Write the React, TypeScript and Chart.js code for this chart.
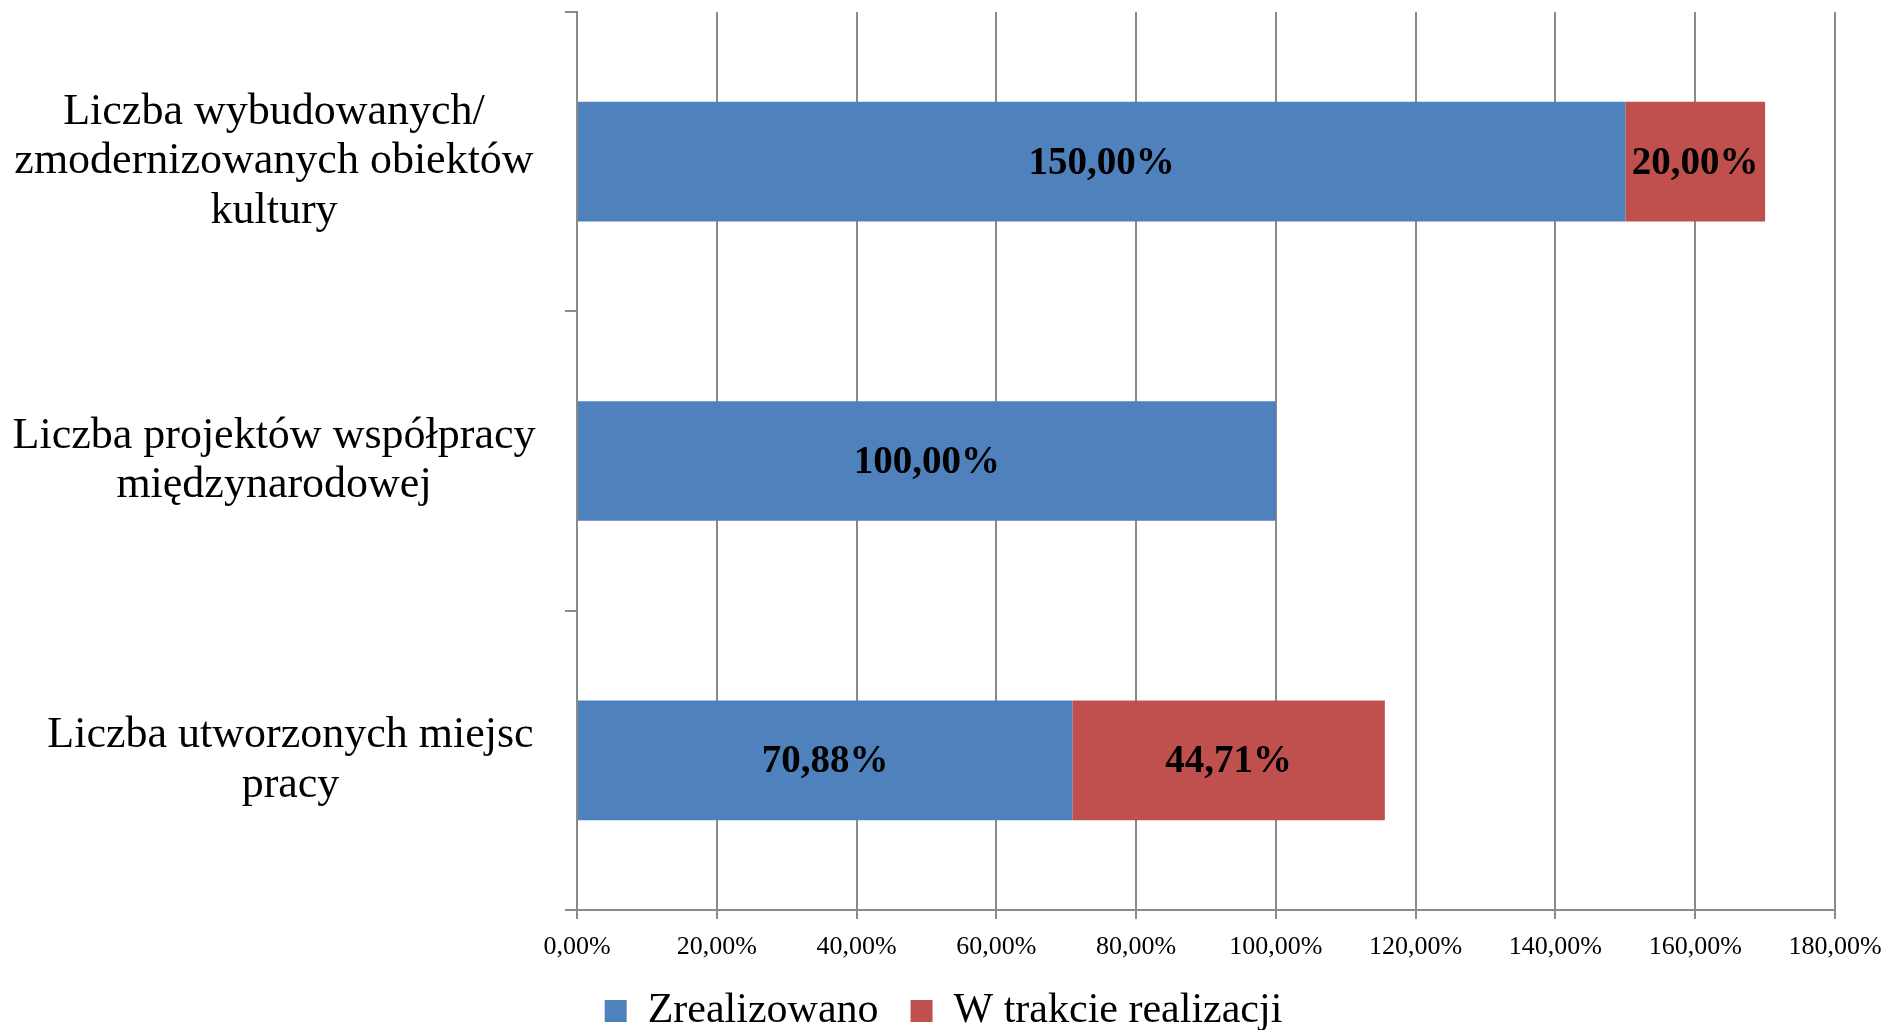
import React, { useEffect, useRef } from "react";
import { Chart, registerables } from "chart.js";

Chart.register(...registerables);

// ---- data ----
const categories: string[][] = [
  ["Liczba wybudowanych/", "zmodernizowanych obiektów", "kultury"],
  ["Liczba projektów współpracy", "międzynarodowej"],
  ["Liczba utworzonych miejsc", "pracy"],
];
const seriesNames: string[] = ["Zrealizowano", "W trakcie realizacji"];
const zrealizowano: (number | null)[] = [150.0, 100.0, 70.88];
const wTrakcie: (number | null)[] = [20.0, null, 44.71];
const xMin = 0;
const xMax = 180;
const xStep = 20;

// ---- style ----
const FONT = "'Liberation Serif', 'Times New Roman', serif";
const BLUE = "#4F81BD";
const RED = "#C0504D";
const GRID = "#8a8a8a";
const CAT_SIZE = 44;

const fmt = (v: number) => v.toFixed(2).replace(".", ",") + "%";

const barLabels = {
  id: "barLabels",
  afterDatasetsDraw(chart: any) {
    const ctx = chart.ctx;
    ctx.save();
    ctx.font = `bold 39px ${FONT}`;
    ctx.fillStyle = "#000";
    ctx.textAlign = "center";
    ctx.textBaseline = "middle";
    chart.data.datasets.forEach((ds: any, di: number) => {
      const meta = chart.getDatasetMeta(di);
      meta.data.forEach((el: any, i: number) => {
        const v = ds.data[i];
        if (v == null) return;
        const p = el.getProps(["x", "y", "base"], true);
        ctx.fillText(fmt(v), (p.x + p.base) / 2, p.y + 2);
      });
    });
    ctx.restore();
  },
};

export default function App() {
  const ref = useRef<HTMLCanvasElement | null>(null);

  useEffect(() => {
    if (!ref.current) return;

    // measure category labels so each block is right aligned with centered lines
    const mc = document.createElement("canvas").getContext("2d")!;
    mc.font = `${CAT_SIZE}px ${FONT}`;
    const widths = categories.map((lines) =>
      Math.max(...lines.map((l) => mc.measureText(l).width))
    );
    const W = Math.max(...widths);
    const sp = mc.measureText("\u00A0").width || 10;
    const labels = categories.map((lines, i) => {
      const n = Math.round((W - widths[i]) / sp);
      const pre = "\u00A0".repeat(Math.max(0, n));
      return lines.map((l) => pre + l);
    });
    const yAxisWidth = 577;
    const yTick = 12;
    const targetCenter = 274;
    const yPad = Math.max(0, yAxisWidth - yTick - targetCenter - W / 2);

    const chart = new Chart(ref.current, {
      type: "bar",
      data: {
        labels,
        datasets: [
          {
            label: seriesNames[0],
            data: zrealizowano,
            backgroundColor: BLUE,
            borderWidth: 0,
            barPercentage: 0.4,
            categoryPercentage: 1.0,
          },
          {
            label: seriesNames[1],
            data: wTrakcie,
            backgroundColor: RED,
            borderWidth: 0,
            barPercentage: 0.4,
            categoryPercentage: 1.0,
          },
        ],
      },
      options: {
        indexAxis: "y",
        animation: false,
        responsive: false,
        layout: { padding: { left: 0, right: 0, top: 12, bottom: -12 } },
        scales: {
          x: {
            stacked: true,
            min: xMin,
            max: xMax,
            ticks: {
              stepSize: xStep,
              callback: (v: any) => fmt(Number(v)),
              font: { family: FONT, size: 26 },
              color: "#000",
              padding: 13,
              maxRotation: 0,
            },
            grid: { color: GRID, lineWidth: 2, tickLength: 9, drawTicks: true },
            border: { display: true, color: GRID, width: 2 },
            afterFit: (s: any) => {
              s.height = 48;
              s.paddingLeft = 0;
              s.paddingRight = 52;
            },
          },
          y: {
            stacked: true,
            offset: true,
            grid: {
              drawOnChartArea: false,
              drawTicks: true,
              tickLength: yTick,
              offset: true,
              color: GRID,
              lineWidth: 2,
            },
            border: { display: true, color: GRID, width: 2 },
            ticks: {
              font: { family: FONT, size: CAT_SIZE, lineHeight: 1.13 },
              color: "#000",
              crossAlign: "center",
              padding: yPad,
              autoSkip: false,
            },
            afterFit: (s: any) => {
              s.width = yAxisWidth;
              s.paddingTop = 0;
              s.paddingBottom = 0;
            },
          },
        },
        plugins: {
          tooltip: { enabled: false },
          legend: {
            position: "bottom",
            labels: {
              boxWidth: 22,
              boxHeight: 22,
              padding: 32,
              color: "#000",
              font: { family: FONT, size: 42 },
            },
          },
        },
      } as any,
      plugins: [barLabels],
    });
    return () => chart.destroy();
  }, []);

  return (
    <div style={{ position: "absolute", left: 0, top: 0, width: 1887, height: 1030, background: "#fff" }}>
      <canvas ref={ref} width={1887} height={1030} style={{ display: "block" }} />
    </div>
  );
}
